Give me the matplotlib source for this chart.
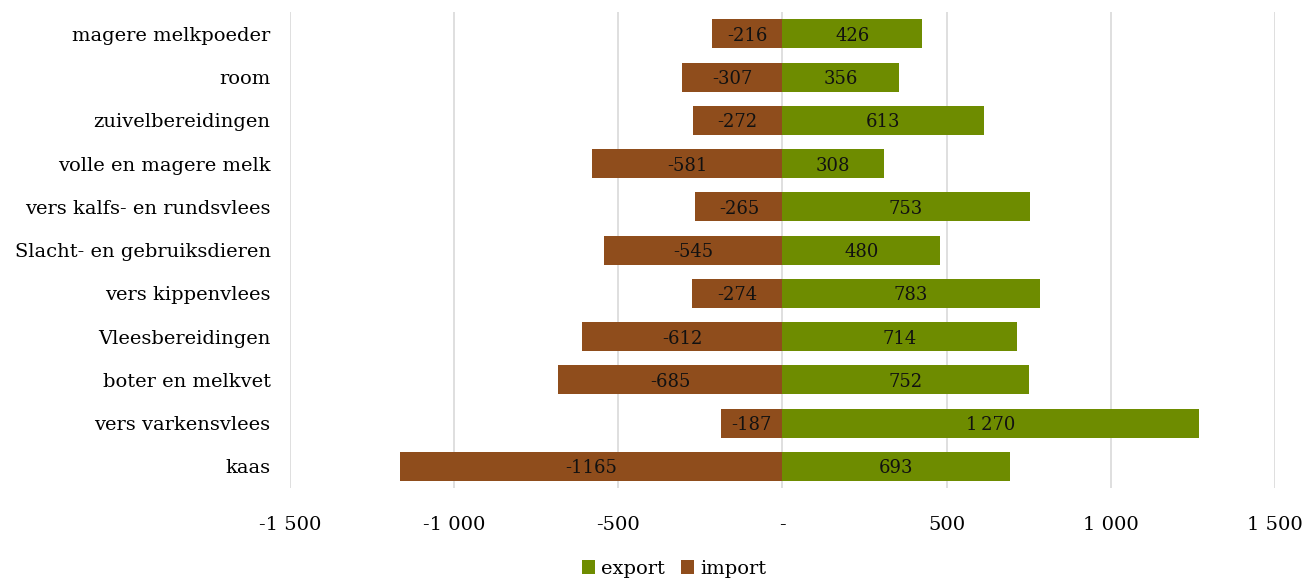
import matplotlib.pyplot as plt
import numpy as np

categories = ['magere melkpoeder', 'room', 'zuivelbereidingen', 'volle en magere melk',
              'vers kalfs- en rundsvlees', 'Slacht- en gebruiksdieren', 'vers kippenvlees',
              'Vleesbereidingen', 'boter en melkvet', 'vers varkensvlees', 'kaas']
export = [426, 356, 613, 308, 753, 480, 783, 714, 752, 1270, 693]
imports = [-216, -307, -272, -581, -265, -545, -274, -612, -685, -187, -1165]
xticks = [-1500, -1000, -500, 0, 500, 1000, 1500]
xticklabels = ['-1 500', '-1 000', '-500', '-', '500', '1 000', '1 500']

green = '#6E8C00'
brown = '#8F4D1C'
plt.rcParams['font.family'] = ['DejaVu Serif']

fig = plt.figure(figsize=(13.02, 5.83), dpi=100)
ax = fig.add_axes([0.2227, 0.163, 0.7565, 0.816])

y = np.arange(len(categories))
ax.barh(y, export, height=0.67, color=green, label='export', zorder=3)
ax.barh(y, imports, height=0.67, color=brown, label='import', zorder=3)

for yi, v in zip(y, export):
    s = f'{v:,}'.replace(',', '\u2009')
    ax.text(v / 2, yi, s, ha='center', va='center_baseline', fontsize=13, color='#111111', zorder=4)
for yi, v in zip(y, imports):
    ax.text(v / 2, yi, str(v), ha='center', va='center_baseline', fontsize=13, color='#111111', zorder=4)

ax.set_ylim(len(categories) - 0.5, -0.5)
ax.set_xlim(-1500, 1500)
ax.set_yticks(y)
ax.set_yticklabels(categories, fontsize=14)
ax.set_xticks(xticks)
ax.set_xticklabels(xticklabels, fontsize=14)
ax.tick_params(axis='both', length=0)
ax.tick_params(axis='x', pad=20)
ax.tick_params(axis='y', pad=14)
ax.grid(axis='x', color='#D9D9D9', linewidth=1.2, zorder=0)
for sp in ax.spines.values():
    sp.set_visible(False)

ax.legend(loc='center', bbox_to_anchor=(0.39, -0.17), ncol=2, frameon=False,
          fontsize=14, handlelength=0.7, handleheight=0.7, handletextpad=0.3,
          columnspacing=0.8)

fig.savefig('out.png', dpi=100)
